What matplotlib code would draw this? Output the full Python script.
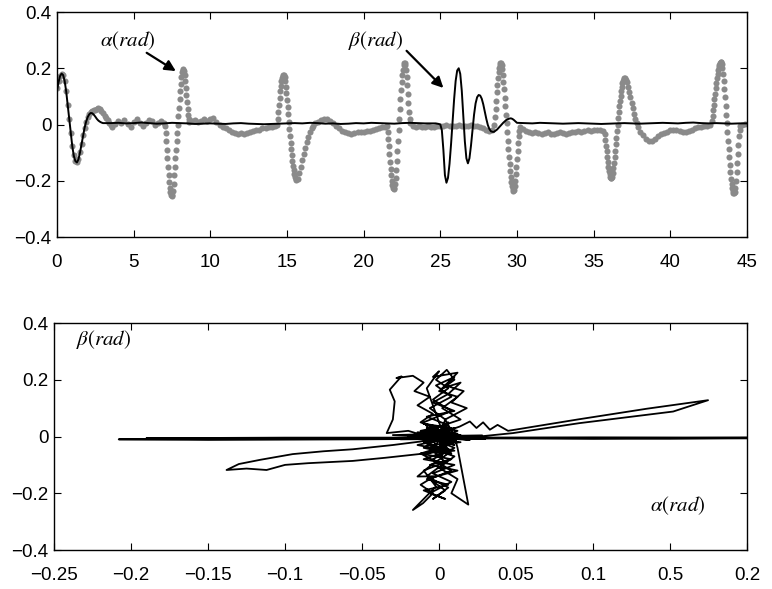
import numpy as np
import matplotlib.pyplot as plt

plt.rcParams['font.family'] = ['Liberation Sans', 'DejaVu Sans']
plt.rcParams['mathtext.fontset'] = 'stix'

# alpha(t): sampled swing angle, stored as pieces with their own start time and step
alpha_starts = [0.0, 3.8, 7.04, 8.8, 14.36, 15.7, 16.8, 21.52, 23.2, 28.52, 30.4, 35.72, 37.16, 38.0, 42.72, 44.7]
alpha_steps = [0.1, 0.2, 0.04, 0.2, 0.04, 0.1, 0.2, 0.04, 0.2, 0.04, 0.2, 0.04, 0.08, 0.2, 0.04, 0.2]
alpha_parts = [
    [0.13, 0.155, 0.172, 0.18, 0.176, 0.155, 0.118, 0.07, 0.02, -0.03, -0.075, -0.11, -0.128, -0.133,
     -0.122, -0.098, -0.068, -0.038, -0.012, 0.01, 0.027, 0.038, 0.045, 0.048, 0.05, 0.052, 0.055,
     0.058, 0.055, 0.048, 0.04, 0.032, 0.024, 0.015, 0.005, -0.003, -0.008],
    [0.002, 0.012, 0.006, 0.016, 0.002, -0.008, 0.008, 0.018, 0.006, -0.006, 0.006, 0.016, 0.012,
     -0.002, 0.006, 0.012, 0.004],
    [-0.005, -0.03, -0.06, -0.09, -0.12, -0.15, -0.178, -0.203, -0.224, -0.24, -0.25, -0.255, -0.25,
     -0.235, -0.21, -0.18, -0.15, -0.12, -0.09, -0.06, -0.03, 0.0, 0.03, 0.06, 0.09, 0.118, 0.145,
     0.168, 0.185, 0.195, 0.198, 0.19, 0.175, 0.155, 0.13, 0.105, 0.08, 0.055, 0.035, 0.02, 0.01],
    [0.012, 0.016, 0.008, 0.014, 0.02, 0.012, 0.018, 0.022, 0.01, 0.0, -0.008, -0.012, -0.02, -0.026,
     -0.03, -0.032, -0.03, -0.034, -0.03, -0.026, -0.022, -0.02, -0.018, -0.014, -0.012, -0.01,
     -0.008, -0.004],
    [0.0, 0.02, 0.045, 0.07, 0.095, 0.118, 0.138, 0.153, 0.165, 0.172, 0.176, 0.175, 0.168, 0.155,
     0.135, 0.112, 0.088, 0.062, 0.036, 0.01, -0.015, -0.04, -0.065, -0.088, -0.11, -0.13, -0.148,
     -0.163, -0.176, -0.186, -0.193, -0.197],
    [-0.192, -0.172, -0.15, -0.127, -0.104, -0.082, -0.062, -0.044, -0.028, -0.014, -0.004],
    [0.004, 0.01, 0.016, 0.02, 0.018, 0.012, 0.005, -0.005, -0.014, -0.022, -0.028, -0.03, -0.032,
     -0.03, -0.026, -0.028, -0.025, -0.022, -0.024, -0.02, -0.016, -0.014, -0.01, -0.008],
    [-0.005, -0.025, -0.05, -0.078, -0.105, -0.132, -0.157, -0.18, -0.2, -0.215, -0.225, -0.229,
     -0.226, -0.212, -0.19, -0.162, -0.13, -0.095, -0.058, -0.02, 0.018, 0.055, 0.09, 0.122, 0.15,
     0.175, 0.195, 0.21, 0.218, 0.22, 0.212, 0.195, 0.17, 0.14, 0.108, 0.075, 0.045, 0.02, 0.004],
    [-0.004, -0.008, -0.006, -0.01, -0.008, -0.006, -0.01, -0.008, -0.004, -0.006, -0.004, -0.002,
     -0.004, -0.006, -0.004, -0.002, -0.004, -0.006, -0.004, -0.002, -0.004, -0.006, -0.008, -0.012,
     -0.018, -0.022, -0.02],
    [0.0, 0.025, 0.055, 0.085, 0.115, 0.142, 0.166, 0.186, 0.201, 0.212, 0.218, 0.218, 0.21, 0.196,
     0.176, 0.152, 0.125, 0.096, 0.066, 0.035, 0.004, -0.027, -0.058, -0.088, -0.116, -0.142, -0.166,
     -0.188, -0.206, -0.22, -0.23, -0.235, -0.232, -0.22, -0.2, -0.176, -0.15, -0.122, -0.094,
     -0.066, -0.042, -0.022, -0.008],
    [-0.015, -0.022, -0.028, -0.03, -0.026, -0.03, -0.034, -0.03, -0.027, -0.032, -0.035, -0.03,
     -0.026, -0.03, -0.034, -0.03, -0.026, -0.028, -0.024, -0.026, -0.022, -0.02, -0.024, -0.02,
     -0.018, -0.02, -0.022],
    [-0.035, -0.055, -0.075, -0.095, -0.115, -0.133, -0.15, -0.165, -0.177, -0.186, -0.19, -0.19,
     -0.185, -0.172, -0.155, -0.136, -0.115, -0.093, -0.07, -0.047, -0.024, -0.001, 0.022, 0.044,
     0.065, 0.085, 0.103, 0.12, 0.134, 0.146, 0.155, 0.161, 0.165, 0.165, 0.16],
    [0.15, 0.135, 0.117, 0.097, 0.077, 0.057, 0.038, 0.02, 0.005, -0.01],
    [-0.025, -0.038, -0.05, -0.058, -0.06, -0.052, -0.042, -0.035, -0.03, -0.025, -0.02, -0.018,
     -0.02, -0.024, -0.028, -0.027, -0.022, -0.018, -0.014, -0.01, -0.008, -0.006, -0.004, -0.002],
    [0.012, 0.03, 0.05, 0.07, 0.09, 0.11, 0.13, 0.148, 0.165, 0.18, 0.193, 0.204, 0.213, 0.219,
     0.223, 0.222, 0.215, 0.2, 0.18, 0.155, 0.127, 0.097, 0.066, 0.035, 0.004, -0.027, -0.058,
     -0.088, -0.117, -0.145, -0.17, -0.192, -0.21, -0.225, -0.236, -0.243, -0.245, -0.24, -0.225,
     -0.2, -0.17, -0.138, -0.105, -0.072, -0.042, -0.018, -0.004],
    [0.0, 0.002],
]

# beta(t): black line
beta_starts = [0.0, 3.5, 24.6, 30.5]
beta_steps = [0.1, 0.5, 0.1, 0.5]
beta_parts = [
    [0.12, 0.15, 0.172, 0.181, 0.176, 0.155, 0.118, 0.07, 0.02, -0.03, -0.078, -0.112, -0.13, -0.135,
     -0.124, -0.1, -0.07, -0.04, -0.012, 0.01, 0.026, 0.036, 0.041, 0.04, 0.035, 0.028, 0.02, 0.014,
     0.01, 0.007, 0.005],
    [0.005, 0.006, 0.004, 0.005, 0.007, 0.005, 0.003, 0.004, 0.006, 0.005, 0.004, 0.002, 0.003, 0.004,
     0.003, 0.002, 0.004, 0.005, 0.003, 0.002, 0.001, 0.002, 0.003, 0.004, 0.005, 0.004, 0.006, 0.005,
     0.003, 0.004, 0.002, 0.003, 0.005, 0.004, 0.006, 0.005, 0.004, 0.003, 0.005, 0.006, 0.005, 0.004,
     0.004],
    [0.004, 0.004, 0.003, 0.002, 0.0, -0.02, -0.09, -0.18, -0.207, -0.19, -0.14, -0.07, 0.01, 0.09,
     0.155, 0.192, 0.2, 0.18, 0.12, 0.03, -0.06, -0.12, -0.138, -0.12, -0.075, -0.02, 0.035, 0.075,
     0.097, 0.105, 0.103, 0.092, 0.072, 0.046, 0.02, -0.002, -0.016, -0.024, -0.026, -0.026, -0.022,
     -0.018, -0.012, -0.006, 0.0, 0.006, 0.011, 0.016, 0.019, 0.021, 0.022, 0.02, 0.016, 0.011, 0.006],
    [0.005, 0.004, 0.006, 0.005, 0.004, 0.003, 0.004, 0.005, 0.004, 0.003, 0.002, 0.003, 0.004, 0.005,
     0.004, 0.003, 0.004, 0.005, 0.006, 0.005, 0.004, 0.006, 0.007, 0.005, 0.004, 0.005, 0.004, 0.003,
     0.004, 0.004],
]

# phase plot (alpha on x, beta on y)
phase_alpha = [
    0.0, 0.0134, 0.02, 0.0243, 0.0286, 0.033, 0.038, 0.0448, 0.09, 0.135, 0.1747, 0.152, 0.091, 0.048,
    0.026, 0.0,
    -0.0125, -0.03, -0.056, -0.075, -0.095, -0.116, -0.13, -0.138, -0.125, -0.112, -0.1, -0.085,
    -0.056, -0.035, -0.008, 0.005,
    0.0, -0.05, -0.1, -0.15, -0.208, -0.15, -0.1, -0.05, 0.0, 0.05, 0.1, 0.15, 0.21, 0.15, 0.1, 0.05,
    0.0, -0.1, -0.19, -0.1, 0.0, 0.1, 0.21, 0.1, 0.0,
    -0.006, 0.004, -0.01, 0.008, -0.004, 0.006, -0.002, 0.005, 0.01, 0.0, 0.012, 0.002, 0.014, -0.008,
    0.006, -0.012, 0.002, -0.008, 0.006, -0.004, 0.004, -0.006, 0.008, -0.004, 0.01, -0.008,
    -0.02, -0.034, -0.03, -0.0288, -0.032, -0.0244, -0.0277, -0.017, -0.01, -0.016, -0.006, -0.014,
    -0.004, -0.012, 0.002,
    -0.008, 0.0, -0.004, 0.012, 0.004, 0.016, 0.008, 0.018, 0.004, 0.01,
    0.012, 0.019, 0.008, 0.012, 0.0, 0.01, -0.006, 0.004, -0.01, -0.002, -0.017, -0.0104, -0.004,
    -0.012, -0.003, -0.014, -0.005, 0.006, -0.01, 0.008, -0.006, 0.004,
    0.005, -0.008, 0.01, -0.01, 0.008, -0.006, 0.012, -0.012, 0.006, -0.004, 0.01, -0.008, 0.002, 0.0,
    0.004, -0.006, 0.008, -0.002, 0.01, 0.002, 0.014, 0.006, -0.004, 0.01, -0.008, 0.006, -0.012,
    0.012, -0.01, 0.014, -0.006, 0.01, -0.012, 0.008, -0.006, 0.012, -0.008, 0.006, -0.01, 0.004,
    -0.006, 0.008, -0.004, 0.01, -0.01, 0.006, -0.014, 0.01, -0.012, 0.008, -0.01, 0.012, -0.006,
    0.014, -0.014, 0.01, -0.008, 0.004,
    -0.03, 0.03, -0.025, 0.028, -0.02, 0.02, 0.0,
]
phase_beta = [
    0.01, 0.035, 0.053, 0.03, 0.05, 0.024, 0.041, 0.02, 0.06, 0.098, 0.128, 0.088, 0.047, 0.012,
    0.0, -0.005,
    -0.018, -0.03, -0.045, -0.052, -0.062, -0.082, -0.097, -0.118, -0.113, -0.118, -0.1, -0.094,
    -0.086, -0.075, -0.059, -0.045,
    -0.006, -0.007, -0.008, -0.009, -0.01, -0.012, -0.011, -0.01, -0.008, -0.005, -0.005, -0.005,
    -0.006, -0.008, -0.008, -0.007, -0.006, -0.005, -0.006, -0.004, -0.004, -0.003, -0.004, -0.006,
    -0.005,
    0.03, -0.04, 0.05, 0.09, 0.13, 0.17, 0.2, 0.235, 0.2, 0.16, 0.14, 0.1, 0.06, 0.02, -0.03, -0.06,
    -0.1, -0.14, -0.18, -0.22, -0.19, -0.15, -0.12, -0.08, -0.04, 0.0,
    0.02, 0.012, 0.06, 0.124, 0.165, 0.212, 0.206, 0.214, 0.19, 0.16, 0.14, 0.11, 0.08, 0.05, 0.02,
    0.17, 0.23, 0.21, 0.225, 0.18, 0.16, 0.12, 0.1, 0.06, 0.0,
    -0.04, -0.24, -0.2, -0.15, -0.11, -0.07, -0.04, -0.09, -0.12, -0.176, -0.259, -0.235, -0.2,
    -0.17, -0.14, -0.141, -0.1, -0.06, -0.02, 0.01, -0.01, 0.02,
    -0.03, 0.01, 0.03, -0.04, -0.06, 0.04, -0.02, 0.0, 0.05, -0.05, 0.0, 0.03, -0.07, -0.006,
    0.06, 0.1, 0.14, 0.18, 0.21, 0.17, 0.19, 0.15, 0.12, 0.09, 0.07, 0.04, 0.02, 0.01, -0.01, -0.02,
    -0.03, -0.05, -0.06, -0.08, -0.1, -0.12, -0.15, -0.17, -0.19, -0.22, -0.2, -0.16, -0.13, -0.1,
    -0.08, -0.05, -0.03, 0.0, 0.01, 0.03, 0.045, 0.02, -0.015, 0.005, 0.015, -0.03, 0.0, 0.01,
    0.005, -0.008, -0.01, 0.004, 0.0, -0.012, 0.0,
]


def join_parts(starts, steps, parts):
    t = np.concatenate([s + d * np.arange(len(p)) for s, d, p in zip(starts, steps, parts)])
    v = np.concatenate([np.array(p) for p in parts])
    return t, v


alpha_t, alpha_v = join_parts(alpha_starts, alpha_steps, alpha_parts)
beta_t, beta_v = join_parts(beta_starts, beta_steps, beta_parts)

fig = plt.figure(figsize=(7.72, 5.89), dpi=100)
ax1 = fig.add_axes([0.0738, 0.5976, 0.8938, 0.382])
ax2 = fig.add_axes([0.070, 0.0662, 0.8977, 0.3854])

# top: time histories
ax1.plot(alpha_t, alpha_v, 'o', color='#8a8a8a', markersize=4.4, markeredgewidth=0, zorder=2)
ax1.plot(beta_t, beta_v, '-', color='black', lw=1.4, zorder=3)
ax1.set_xlim(0, 45)
ax1.set_ylim(-0.4, 0.4)
ax1.set_xticks(np.arange(0, 46, 5))
ax1.set_xticklabels([str(v) for v in range(0, 46, 5)])
ax1.set_yticks([-0.4, -0.2, 0, 0.2, 0.4])
ax1.set_yticklabels(['\u22120.4', '\u22120.2', '0', '0.2', '0.4'])
ax1.text(4.63, 0.297, r'$\alpha(rad)$', ha='center', va='center', fontsize=15)
ax1.text(20.8, 0.30, r'$\beta(rad)$', ha='center', va='center', fontsize=15)
arrow = dict(arrowstyle='-|>', color='black', lw=1.6, mutation_scale=16, shrinkA=0, shrinkB=0)
ax1.annotate('', xy=(7.75, 0.19), xytext=(5.85, 0.255), arrowprops=arrow)
ax1.annotate('', xy=(25.2, 0.13), xytext=(22.8, 0.262), arrowprops=arrow)

# bottom: beta against alpha
ax2.plot(phase_alpha, phase_beta, '-', color='black', lw=1.3)
ax2.set_xlim(-0.25, 0.2)
ax2.set_ylim(-0.4, 0.4)
ax2.set_xticks([-0.25, -0.2, -0.15, -0.1, -0.05, 0, 0.05, 0.1, 0.15, 0.2])
ax2.set_xticklabels(['\u22120.25', '\u22120.2', '\u22120.15', '\u22120.1', '\u22120.05', '0',
                     '0.05', '0.1', '0.5', '0.2'])
ax2.set_yticks([-0.4, -0.2, 0, 0.2, 0.4])
ax2.set_yticklabels(['\u22120.4', '\u22120.2', '0', '0.2', '0.4'])
ax2.text(-0.218, 0.341, r'$\beta(rad)$', ha='center', va='center', fontsize=15)
ax2.text(0.1547, -0.243, r'$\alpha(rad)$', ha='center', va='center', fontsize=15)

for ax in (ax1, ax2):
    ax.tick_params(direction='in', top=True, right=True, length=5, width=0.8, labelsize=13.5)
    ax.tick_params(axis='x', pad=12)
    ax.tick_params(axis='y', pad=4)
    for sp in ax.spines.values():
        sp.set_linewidth(1.0)

fig.savefig('out.png', dpi=100)
